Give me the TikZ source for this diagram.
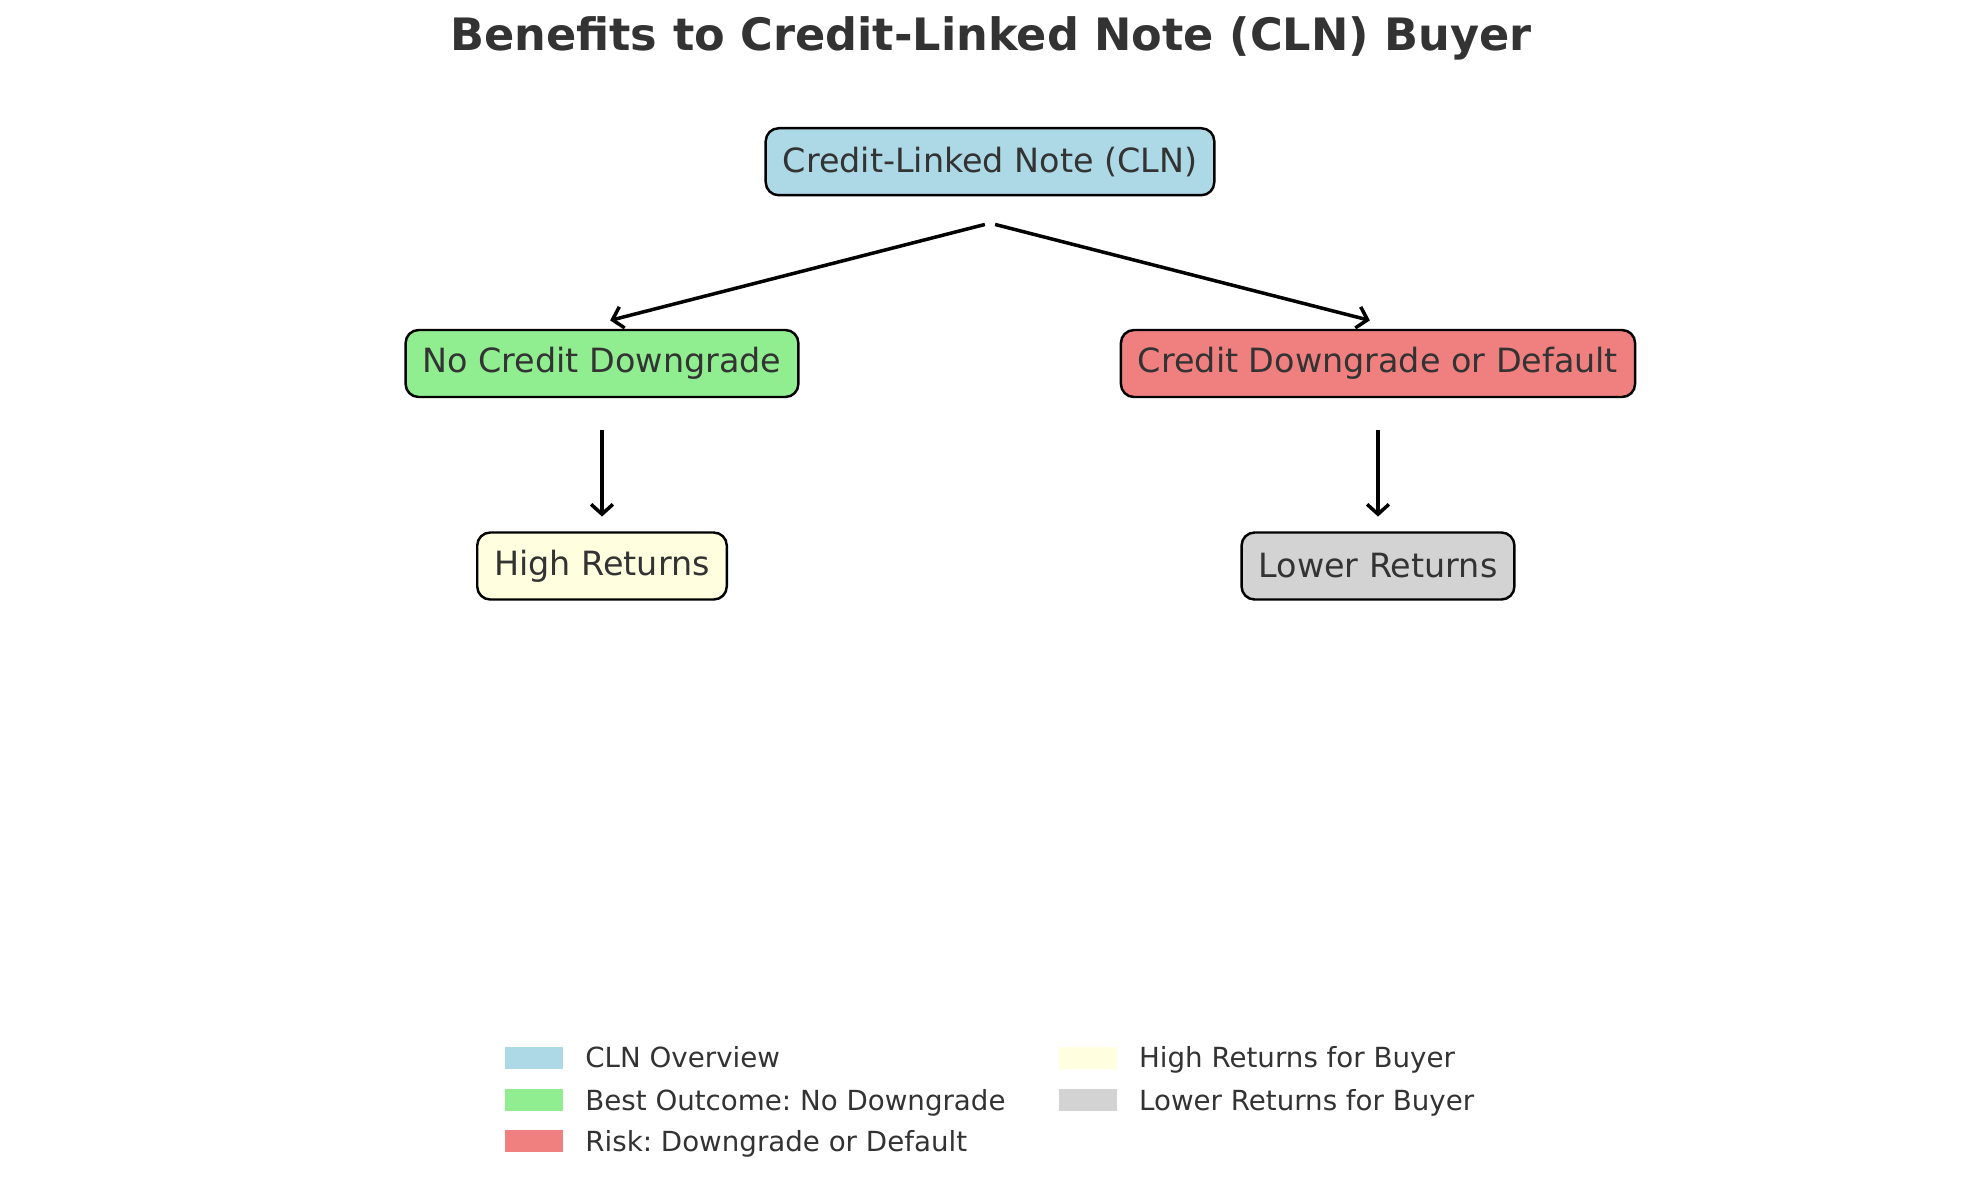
\documentclass[tikz,border=0pt]{standalone}
\usepackage{fontspec}
\setmainfont{DejaVu Sans}
\usepackage{xcolor}
\usepackage{tikz}
\usetikzlibrary{arrows.meta}
\definecolor{clnblue}{HTML}{ADD8E6}
\definecolor{goodgreen}{HTML}{90EE90}
\definecolor{riskred}{HTML}{F08080}
\definecolor{highyellow}{HTML}{FFFFE0}
\definecolor{lowgray}{HTML}{D3D3D3}
\definecolor{txt}{HTML}{333333}
\frenchspacing

\begin{document}
\begin{tikzpicture}[
        box/.style={draw=black, line width=0.7pt, rounded corners=0.13cm, text=txt,
                font=\fontsize{9.5}{11}\selectfont, minimum height=0.67cm, inner xsep=0.17cm},
        link/.style={->, line width=1pt, shorten <=1.5pt, shorten >=2.4pt},
        swatch/.style={minimum width=0.58cm, minimum height=0.22cm, inner sep=0pt},
        legtext/.style={text=txt, font=\fontsize{7.88}{10}\selectfont, inner sep=0pt, anchor=base west},
        >={Straight Barb[length=2.8pt,width=6.2pt]}
    ]
    \useasboundingbox (0,0) rectangle (19.79,-11.88);

    \node[text=txt, font=\bfseries\fontsize{12.7}{15}\selectfont] (title) at (9.91,-0.38) {Benefits to Credit-Linked Note (CLN) Buyer};

    \node[box, fill=clnblue] (cln) at (9.9,-1.617) {Credit-Linked Note (CLN)};
    \node[box, fill=goodgreen] (nodown) at (6.02,-3.635) {No Credit Downgrade};
    \node[box, fill=riskred] (down) at (13.78,-3.635) {Credit Downgrade or Default};
    \node[box, fill=highyellow] (high) at (6.02,-5.66) {High Returns};
    \node[box, fill=lowgray] (low) at (13.78,-5.66) {Lower Returns};

    \draw[link] ([yshift=-2.67mm]cln.south) -- ([yshift=0.63mm]nodown.north);
    \draw[link] ([yshift=-2.67mm]cln.south) -- ([yshift=0.63mm]down.north);
    \draw[link] ([yshift=-2.67mm]nodown.south) -- ([yshift=0.63mm]high.north);
    \draw[link] ([yshift=-2.67mm]down.south) -- ([yshift=0.63mm]low.north);

    % legend
    \foreach \col/\x/\y/\txt [count=\i] in {clnblue/5.34/10.577/CLN Overview,
            goodgreen/5.34/11.0/Best Outcome: No Downgrade,
            riskred/5.34/11.41/Risk: Downgrade or Default,
            highyellow/10.877/10.577/High Returns for Buyer,
            lowgray/10.877/11.0/Lower Returns for Buyer} {
            \node[swatch, fill=\col] (sw\i) at (\x,-\y) {};
            \node[legtext] (lg\i) at ([xshift=0.21cm, yshift=-1.02mm]sw\i.east) {\txt};
        }

\end{tikzpicture}
\end{document}
